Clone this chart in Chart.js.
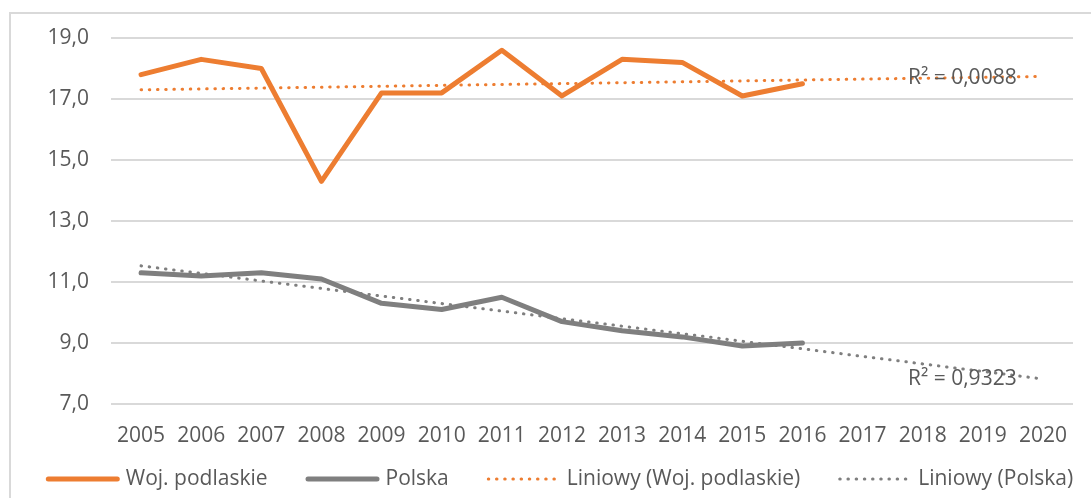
<!DOCTYPE html>
<html>
<head>
<meta charset="utf-8">
<script src="https://cdn.jsdelivr.net/npm/chart.js@4/dist/chart.umd.min.js"></script>
<style>
  html, body { margin: 0; padding: 0; background: #ffffff; }
  #wrap { width: 1091px; height: 498px; position: relative; }
</style>
</head>
<body>
<div id="wrap"><canvas id="chart" width="1091" height="498"></canvas></div>
<script>
// Years on the category axis (trend lines run on to 2020)
const years = ['2005', '2006', '2007', '2008', '2009', '2010', '2011', '2012',
               '2013', '2014', '2015', '2016', '2017', '2018', '2019', '2020'];

// Observed values 2005-2016
const podlaskie = [17.8, 18.3, 18.0, 14.3, 17.2, 17.2, 18.6, 17.1, 18.3, 18.2, 17.1, 17.5];
const polska    = [11.3, 11.2, 11.3, 11.1, 10.3, 10.1, 10.5, 9.7, 9.4, 9.2, 8.9, 9.0];

// Linear trend lines: values at 2005 and at 2020
const trendPodlaskie = [17.30, 17.74];
const trendPolska    = [11.53, 7.82];

// Value axis ticks
const yTicks = [7, 9, 11, 13, 15, 17, 19];

const seriesNames = ['Woj. podlaskie', 'Polska', 'Liniowy (Woj. podlaskie)', 'Liniowy (Polska)'];
const r2Labels = ['R² = 0,0088', 'R² = 0,9323'];

const ORANGE = '#ED7D31';
const GREY = '#7F7F7F';
const TEXT = '#595959';
const FONT = { family: '"Open Sans", "Liberation Sans", sans-serif', size: 21 };

// Trend series span the whole axis: first and last year only, joined straight
function endpoints(pair) {
  return years.map((_, i) => (i === 0 ? pair[0] : i === years.length - 1 ? pair[1] : null));
}

const fmt = v => Number(v).toFixed(1).replace('.', ',');

// Frame around the chart
const framePlugin = {
  id: 'frame',
  beforeDraw(chart) {
    const ctx = chart.ctx;
    ctx.save();
    ctx.strokeStyle = '#D9D9D9';
    ctx.lineWidth = 2;
    ctx.strokeRect(10, 13, chart.width + 20, chart.height + 20);
    ctx.restore();
  }
};

// R² annotations next to the trend lines
const r2Plugin = {
  id: 'r2',
  afterDatasetsDraw(chart) {
    const { ctx, chartArea, scales } = chart;
    ctx.save();
    ctx.font = `${FONT.size}px ${FONT.family}`;
    ctx.fillStyle = TEXT;
    ctx.textAlign = 'left';
    ctx.textBaseline = 'middle';
    const x = chartArea.right - 165;
    ctx.fillText(r2Labels[0], x, scales.y.getPixelForValue(17.7));
    ctx.fillText(r2Labels[1], x, scales.y.getPixelForValue(7.83));
    ctx.restore();
  }
};

// Legend row under the axis: line sample followed by series name
const legendPlugin = {
  id: 'lineLegend',
  afterDraw(chart) {
    const ctx = chart.ctx;
    const sample = 74, textGap = 6, itemGap = 38;
    ctx.save();
    ctx.font = `${FONT.size}px ${FONT.family}`;
    const items = chart.data.datasets.map(ds => ({
      ds, w: sample + textGap + ctx.measureText(ds.label).width
    }));
    const total = items.reduce((s, it) => s + it.w, 0) + itemGap * (items.length - 1);
    let x = chart.width / 2 + 14 - total / 2;
    const y = 479;
    items.forEach(({ ds, w }) => {
      const inset = ds.borderDash ? 1.5 : ds.borderWidth / 2;
      ctx.beginPath();
      ctx.strokeStyle = ds.borderColor;
      ctx.lineWidth = ds.borderWidth;
      ctx.lineCap = 'round';
      ctx.setLineDash(ds.borderDash || []);
      ctx.moveTo(x + inset, y);
      ctx.lineTo(x + sample - inset, y);
      ctx.stroke();
      ctx.setLineDash([]);
      ctx.fillStyle = TEXT;
      ctx.textAlign = 'left';
      ctx.textBaseline = 'middle';
      ctx.fillText(ds.label, x + sample + textGap, y);
      x += w + itemGap;
    });
    ctx.restore();
  }
};

new Chart(document.getElementById('chart'), {
  type: 'line',
  data: {
    labels: years,
    datasets: [
      {
        label: seriesNames[0], data: podlaskie, order: 1,
        borderColor: ORANGE, borderWidth: 5, borderCapStyle: 'round', borderJoinStyle: 'round',
        pointRadius: 0, tension: 0, fill: false
      },
      {
        label: seriesNames[1], data: polska, order: 1,
        borderColor: GREY, borderWidth: 5, borderCapStyle: 'round', borderJoinStyle: 'round',
        pointRadius: 0, tension: 0, fill: false
      },
      {
        label: seriesNames[2], data: endpoints(trendPodlaskie), order: 0, spanGaps: true,
        borderColor: ORANGE, borderWidth: 3, borderDash: [0.5, 7.7], borderCapStyle: 'round',
        pointRadius: 0, tension: 0, fill: false
      },
      {
        label: seriesNames[3], data: endpoints(trendPolska), order: 0, spanGaps: true,
        borderColor: GREY, borderWidth: 3, borderDash: [0.5, 7.7], borderCapStyle: 'round',
        pointRadius: 0, tension: 0, fill: false
      }
    ]
  },
  options: {
    responsive: false,
    animation: false,
    events: [],
    layout: { padding: { top: 38, left: 0, right: 18, bottom: 50 } },
    plugins: { legend: { display: false }, tooltip: { enabled: false } },
    scales: {
      x: {
        offset: true,
        grid: { display: false, offset: true },
        border: { display: false },
        ticks: { color: TEXT, font: FONT, padding: 11, maxRotation: 0, autoSkip: false },
        afterFit: s => { s.height = 44; }
      },
      y: {
        min: yTicks[0],
        max: yTicks[yTicks.length - 1],
        afterBuildTicks: s => { s.ticks = yTicks.map(v => ({ value: v })); },
        ticks: { color: TEXT, font: FONT, padding: 22, callback: v => fmt(v) },
        grid: { color: '#D9D9D9', lineWidth: 2, drawTicks: false },
        border: { display: false },
        afterFit: s => { s.width = 111; }
      }
    }
  },
  plugins: [framePlugin, r2Plugin, legendPlugin]
});
</script>
</body>
</html>
